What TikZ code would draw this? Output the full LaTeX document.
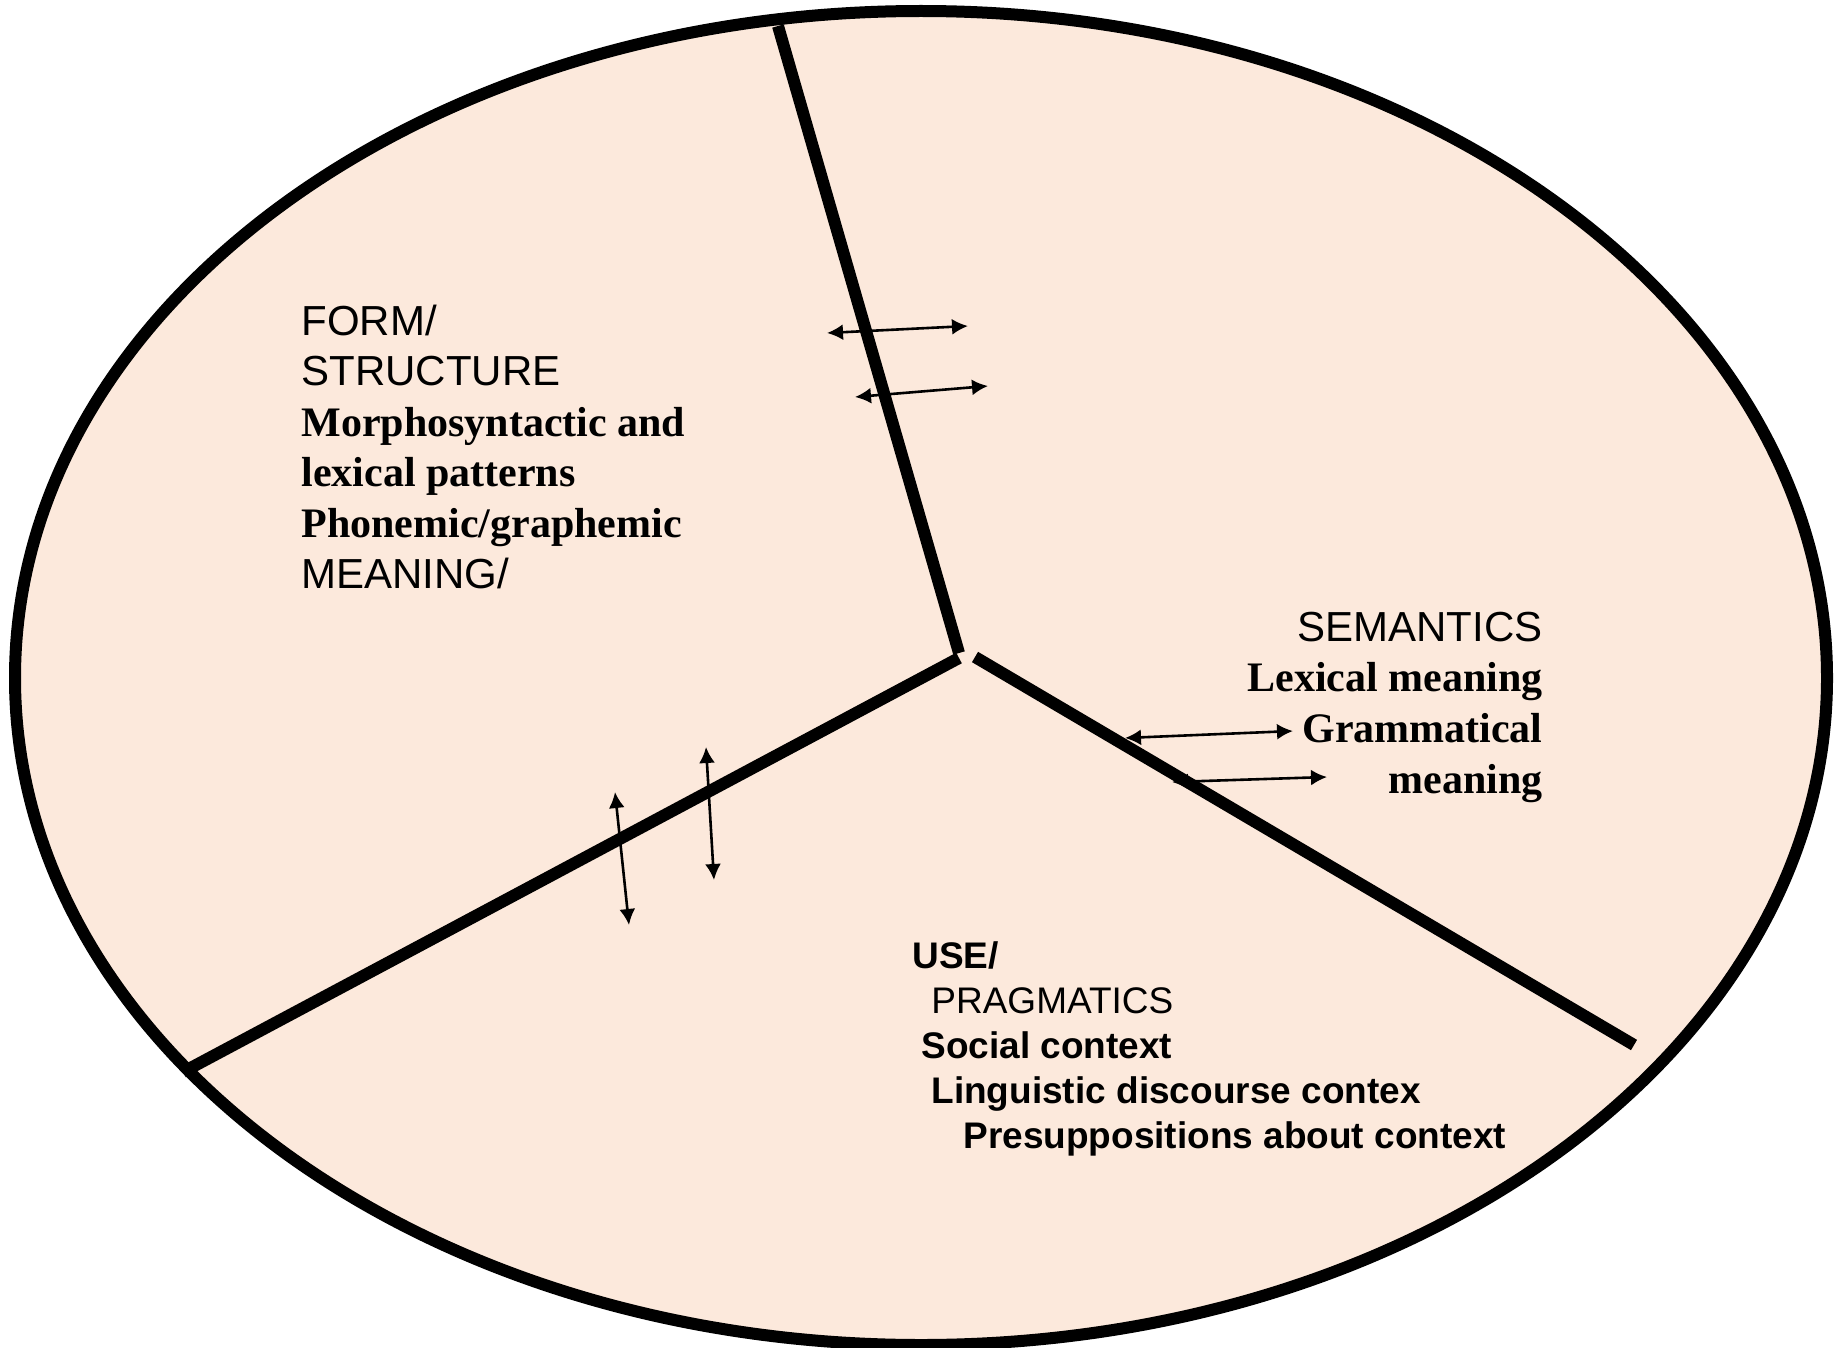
\documentclass[tikz,border=0pt]{standalone}
\usepackage{fontspec}
\setmainfont{Liberation Serif}
\setsansfont{Liberation Sans}
\usepackage{tikz}
\usetikzlibrary{arrows.meta}
\definecolor{peach}{RGB}{252,233,220}
\tikzstyle{divider} = [draw, line width=6pt]
\tikzstyle{crossarrow} = [draw, line width=1.3pt,
    {Latex[length=8pt,width=8pt]}-{Latex[length=8pt,width=8pt]}]
\tikzstyle{textblock} = [inner sep=0pt, font=\fontsize{21}{25.3}\selectfont]
\tikzstyle{useblock} = [inner sep=0pt, align=left,
    font=\sffamily\bfseries\fontsize{18.5}{22.5}\selectfont]

\begin{document}
\begin{tikzpicture}[x=0.5pt, y=-0.5pt]
        \useasboundingbox (0,0) rectangle (1835,1348);
        \draw [fill=peach, line width=6pt] (921,678) ellipse [x radius=906, y radius=667];
        % dividers
        \coordinate (rim1) at (778,26);
        \coordinate (hub1) at (959,653);
        \coordinate (hub2) at (959,658);
        \coordinate (rim2) at (183,1072);
        \coordinate (hub3) at (975,657);
        \coordinate (rim3) at (1634,1045);
        \path [divider] (rim1) -- (hub1);
        \path [divider] (hub2) -- (rim2);
        \path [divider] (hub3) -- (rim3);
        % arrows across the dividers
        \coordinate (a1l) at (827,333);  \coordinate (a1r) at (968,326);
        \coordinate (a2l) at (855,397);  \coordinate (a2r) at (988,386);
        \coordinate (b1t) at (615,792);  \coordinate (b1b) at (629,925);
        \coordinate (b2t) at (706,747);  \coordinate (b2b) at (714,880);
        \coordinate (c1l) at (1125,738); \coordinate (c1r) at (1293,731);
        \coordinate (c2l) at (1172,782); \coordinate (c2r) at (1327,777);
        \path [crossarrow] (a1l) -- (a1r);
        \path [crossarrow] (a2l) -- (a2r);
        \path [crossarrow] (b1t) -- (b1b);
        \path [crossarrow] (b2t) -- (b2b);
        \path [crossarrow] (c1l) -- (c1r);
        \path [crossarrow] (c2l) -- (c2r);
        % labels (anchored at the baseline of their last line)
        \node [textblock, align=left, anchor=base west] (form) at (301,588)
            {\sffamily FORM/\\ \sffamily STRUCTURE\\ \bfseries Morphosyntactic and\\
             \bfseries lexical patterns\\ \bfseries Phonemic/graphemic\\ \sffamily MEANING/};
        \node [textblock, align=right, anchor=base east] (semantics) at (1543,793)
            {\sffamily SEMANTICS\\ \bfseries Lexical meaning\\ \bfseries Grammatical\\ \bfseries meaning};
        \node [useblock, anchor=base west] (use) at (912,1148)
            {USE/\\ \hspace*{9.5pt}\mdseries PRAGMATICS\\ \hspace*{4.5pt}Social context\\
             \hspace*{9.5pt}Linguistic discourse contex\\ \hspace*{25.5pt}Presuppositions about context};
    \end{tikzpicture}
\end{document}
